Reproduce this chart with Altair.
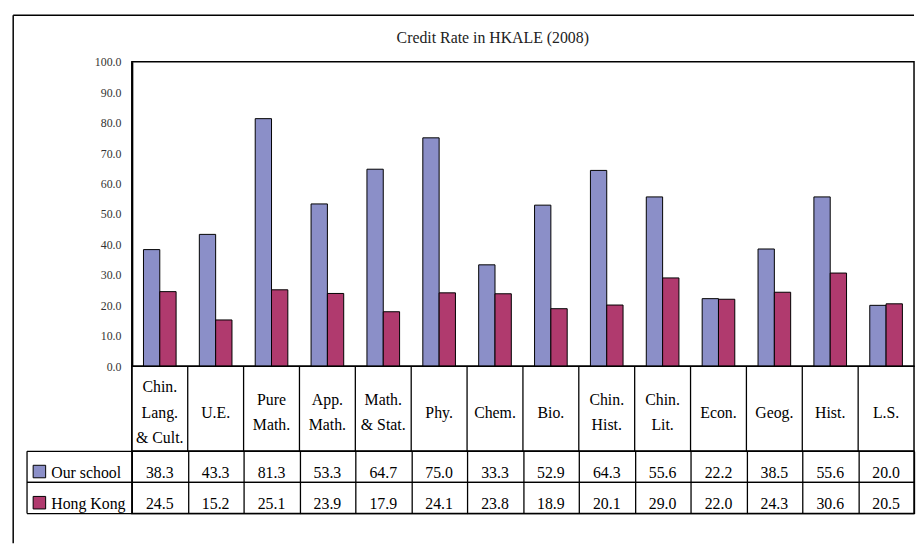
import altair as alt
import pandas as pd

# ---- data ----
categories = ["Chin.\nLang.\n& Cult.", "U.E.", "Pure\nMath.", "App.\nMath.", "Math.\n& Stat.",
              "Phy.", "Chem.", "Bio.", "Chin.\nHist.", "Chin.\nLit.", "Econ.", "Geog.",
              "Hist.", "L.S."]
series = ["Our school", "Hong Kong"]
our_school = [38.3, 43.3, 81.3, 53.3, 64.7, 75.0, 33.3, 52.9, 64.3, 55.6, 22.2, 38.5, 55.6, 20.0]
hong_kong = [24.5, 15.2, 25.1, 23.9, 17.9, 24.1, 23.8, 18.9, 20.1, 29.0, 22.0, 24.3, 30.6, 20.5]
y_ticks = [0, 10, 20, 30, 40, 50, 60, 70, 80, 90, 100]
colors = ["#8B8FC8", "#B03A6E"]
title_text = "Credit Rate in HKALE (2008)"

rows = []
for i, c in enumerate(categories):
    rows.append({"subject": c, "series": series[0], "value": our_school[i]})
    rows.append({"subject": c, "series": series[1], "value": hong_kong[i]})
df = pd.DataFrame(rows)
cat_df = pd.DataFrame({"subject": categories})
ser_df = pd.DataFrame({"series": series})
one = alt.Data(values=[{}])

FONT = "Liberation Serif"
W = 791
H_BARS = 308
H_HDR = 86
H_VAL = 63

x_scale = alt.Scale(domain=categories, paddingInner=0, paddingOuter=0)
color_scale = alt.Scale(domain=series, range=colors)
row_scale = alt.Scale(domain=series, paddingInner=0, paddingOuter=0)

grid_axis = alt.Axis(grid=True, tickBand="extent", labels=False, ticks=False, domain=False,
                     title=None, gridColor="black", gridWidth=1.3, gridOpacity=1)

# ---- bar panel ----
frame_top = alt.Chart(one).mark_rule(color="black", strokeWidth=1.5).encode(
    x=alt.value(-120), x2=alt.value(W), y=alt.value(-47))
frame_left = alt.Chart(one).mark_rule(color="black", strokeWidth=1.5).encode(
    x=alt.value(-120), y=alt.value(-47), y2=alt.value(487))
title = alt.Chart(one).mark_text(text=title_text, font=FONT, fontSize=16, color="#222",
                                 align="center", baseline="middle").encode(
    x=alt.value(365), y=alt.value(-24))

bars = alt.Chart(df).mark_bar(stroke="black", strokeWidth=1).encode(
    x=alt.X("subject:N", scale=x_scale, sort=categories, axis=None),
    xOffset=alt.XOffset("series:N", sort=series,
                        scale=alt.Scale(domain=series, paddingInner=0, paddingOuter=0.712)),
    y=alt.Y("value:Q", scale=alt.Scale(domain=[0, 100], nice=False),
            axis=alt.Axis(values=y_ticks, format=".1f", title=None, grid=False, ticks=False,
                          labelPadding=11, labelFont=FONT, labelFontSize=12,
                          labelColor="#333", domainColor="black", domainWidth=2)),
    color=alt.Color("series:N", scale=color_scale, legend=None),
)
top = alt.layer(frame_top, frame_left, title, bars).properties(width=W, height=H_BARS)

# ---- header row of the data table (multi-line labels, block centred) ----
hdr_text = alt.Chart(cat_df).transform_calculate(
    nlines="length(split(datum.subject, '\\n'))"
).mark_text(lineBreak="\n", font=FONT, fontSize=16, lineHeight=25.5,
            color="black", baseline="middle").encode(
    x=alt.X("subject:N", scale=x_scale, sort=categories, axis=None),
    y=alt.Y("nlines:Q", scale=alt.Scale(domain=[1, 3], range=[47, 21.5], nice=False, zero=False),
            axis=None),
    text="subject:N",
)
hdr_lines = alt.Chart(cat_df).mark_rule(color="black", strokeWidth=1.3).encode(
    x=alt.X("subject:N", scale=x_scale, sort=categories, bandPosition=0, axis=None),
    y=alt.value(0), y2=alt.value(H_HDR))
hdr = alt.layer(hdr_lines, hdr_text).properties(width=W, height=H_HDR)

# ---- value rows of the data table ----
val_text = alt.Chart(df).mark_text(font=FONT, fontSize=16, dy=6, color="black",
                                   baseline="middle").encode(
    x=alt.X("subject:N", scale=x_scale, sort=categories, axis=grid_axis),
    y=alt.Y("series:N", scale=row_scale, sort=series,
            axis=alt.Axis(title=None, ticks=False, domain=False, grid=False, labelAlign="left",
                          labelPadding=82, labelBaseline="middle", labelOffset=6,
                          labelFont=FONT, labelFontSize=16, labelColor="black")),
    text=alt.Text("value:Q", format=".1f"),
)
line_top = alt.Chart(ser_df).mark_rule(color="black", strokeWidth=1.3).encode(
    y=alt.Y("series:N", scale=row_scale, sort=series, bandPosition=0),
    x=alt.value(-106), x2=alt.value(W))
line_bot = alt.Chart(ser_df).mark_rule(color="black", strokeWidth=1.3).encode(
    y=alt.Y("series:N", scale=row_scale, sort=series, bandPosition=1),
    x=alt.value(-106), x2=alt.value(W))
line_left = alt.Chart(one).mark_rule(color="black", strokeWidth=1.3).encode(
    x=alt.value(-106), y=alt.value(0), y2=alt.value(H_VAL))
squares = alt.Chart(ser_df).mark_point(shape="square", filled=True, size=160, stroke="black",
                                       strokeWidth=1, opacity=1).encode(
    x=alt.value(-93.5),
    y=alt.Y("series:N", scale=row_scale, sort=series, bandPosition=0.65),
    color=alt.Color("series:N", scale=color_scale, legend=None),
)
vals = alt.layer(val_text, line_top, line_bot, line_left, squares).properties(width=W, height=H_VAL)

chart = alt.vconcat(top, hdr, vals, spacing=0, bounds="flush").properties(
    padding={"left": 3.25, "top": 2.25, "right": 0, "bottom": 0}
).configure_view(stroke="black", strokeWidth=1.5)

chart.save("out.html", embed_options={"renderer": "svg", "actions": False})
